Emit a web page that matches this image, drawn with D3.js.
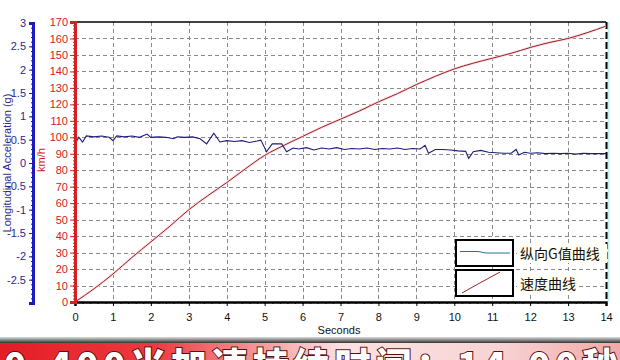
<!DOCTYPE html>
<html>
<head>
<meta charset="utf-8">
<script src="https://cdn.jsdelivr.net/npm/d3@7"></script>
<style>
  html, body { margin: 0; padding: 0; background: #fff; }
  svg { display: block; font-family: "Liberation Sans", Arial, sans-serif; }
</style>
</head>
<body>
<div id="chart"></div>
<script>
// speed curve (km/h)
const speedTime = [0, 0.5, 1, 1.5, 2, 2.5, 3, 3.5, 4, 4.5, 5, 5.5, 6, 6.5, 7, 7.5, 8, 8.5, 9, 9.5, 10, 10.5, 11, 11.5, 12, 12.5, 13, 13.5, 14]
const speedVals = [0, 8, 17, 27, 36.5, 46, 56, 64.5, 72.5, 81, 89, 95, 100.5, 106, 111, 116, 121.5, 126.5, 132, 137, 141.5, 145, 148, 151, 154.5, 157.5, 160, 163.5, 167.5]

// longitudinal acceleration (g)
const accTime = [0, 0.1, 0.2, 0.3, 0.5, 0.7, 0.9, 1.0, 1.1, 1.3, 1.5, 1.7, 1.9, 2.0, 2.2, 2.4, 2.6, 2.7, 2.9, 3.1, 3.3, 3.47, 3.66, 3.82,
  4.0, 4.2, 4.4, 4.6, 4.8, 4.9, 5.05, 5.2, 5.45, 5.58, 5.75, 5.9, 6.1, 6.3, 6.5, 6.7, 6.9, 7.1, 7.3, 7.5, 7.7, 7.9,
  8.1, 8.3, 8.5, 8.7, 8.9, 9.1, 9.23, 9.32, 9.5, 9.7, 9.9, 10.1, 10.3, 10.38, 10.5, 10.7, 10.9, 11.1, 11.3, 11.5, 11.63, 11.7, 11.85,
  12.0, 12.2, 12.4, 12.6, 12.8, 13.0, 13.2, 13.4, 13.6, 13.8, 14.0]
const accVals = [0.40, 0.55, 0.45, 0.58, 0.56, 0.58, 0.55, 0.48, 0.58, 0.56, 0.58, 0.55, 0.62, 0.55, 0.56, 0.55, 0.52, 0.56, 0.55, 0.56, 0.52, 0.41, 0.64, 0.45,
  0.48, 0.46, 0.48, 0.44, 0.47, 0.49, 0.24, 0.41, 0.41, 0.24, 0.32, 0.30, 0.33, 0.28, 0.32, 0.30, 0.33, 0.29, 0.31, 0.30, 0.32, 0.29,
  0.31, 0.30, 0.32, 0.29, 0.31, 0.30, 0.38, 0.21, 0.29, 0.29, 0.28, 0.26, 0.25, 0.10, 0.24, 0.27, 0.23, 0.22, 0.21, 0.21, 0.29, 0.17, 0.23,
  0.21, 0.22, 0.20, 0.21, 0.20, 0.21, 0.19, 0.21, 0.20, 0.20, 0.20]

const xTicks = d3.range(0, 15)
const speedTicks = d3.range(0, 171, 10)
const accTicks = [3, 2.5, 2, 1.5, 1, 0.5, 0, -0.5, -1, -1.5, -2, -2.5]
const legendLabels = ['纵向G值曲线', '速度曲线']
const bannerText = '0-400米加速持续时间：14.00秒'

const W = 620, H = 360
const svg = d3.select('#chart').append('svg').attr('width', W).attr('height', H)

const x = d3.scaleLinear().domain([0, 14]).range([75, 606])
const ySpeed = d3.scaleLinear().domain([0, 170]).range([302, 22])
const yAcc = d3.scaleLinear().domain([-3, 3]).range([303, 23])

// grid
const grid = svg.append('g').attr('stroke', '#8a8a8a').attr('stroke-dasharray', '4,3').attr('stroke-width', 1)
xTicks.filter(t => t > 0 && t < 14).forEach(t => {
  grid.append('line').attr('x1', Math.round(x(t)) + 0.5).attr('x2', Math.round(x(t)) + 0.5).attr('y1', 22).attr('y2', 302)
})
speedTicks.filter(t => t > 0 && t < 170).forEach(t => {
  grid.append('line').attr('x1', 75).attr('x2', 606).attr('y1', Math.round(ySpeed(t)) + 0.5).attr('y2', Math.round(ySpeed(t)) + 0.5)
})

// frame: top solid, right dashed + cyan
svg.append('line').attr('x1', 75).attr('x2', 606).attr('y1', 22).attr('y2', 22).attr('stroke', '#000').attr('stroke-width', 1.5)
svg.append('line').attr('x1', 608.5).attr('x2', 608.5).attr('y1', 22).attr('y2', 302).attr('stroke', '#bdf3f3').attr('stroke-width', 2)
svg.append('line').attr('x1', 606.5).attr('x2', 606.5).attr('y1', 22).attr('y2', 302)
  .attr('stroke', '#000').attr('stroke-width', 2).attr('stroke-dasharray', '7,3')

// lines
const speedLine = d3.line().x((d, i) => x(speedTime[i])).y(d => ySpeed(d)).curve(d3.curveMonotoneX)
svg.append('path').datum(speedVals).attr('d', speedLine)
  .attr('fill', 'none').attr('stroke', '#fbdcdc').attr('stroke-width', 2.5)
svg.append('path').datum(speedVals).attr('d', speedLine)
  .attr('fill', 'none').attr('stroke', '#9c1c28').attr('stroke-width', 1)

const accLine = d3.line().x((d, i) => x(accTime[i])).y(d => yAcc(d))
svg.append('path').datum(accVals).attr('d', accLine)
  .attr('fill', 'none').attr('stroke', '#1c1c7c').attr('stroke-width', 1.1)

// x axis
const xAxis = svg.append('g').attr('transform', 'translate(0,302)')
  .call(d3.axisBottom(x).tickValues(xTicks).tickSize(4).tickPadding(7).tickFormat(d3.format('d')))
xAxis.call(g => g.select('.domain').attr('stroke', '#000').attr('stroke-width', 2.5))
xAxis.selectAll('text').attr('font-size', 11).attr('fill', '#111')
svg.append('g').attr('transform', 'translate(0,302)')
  .call(d3.axisBottom(x).tickValues(d3.range(0, 14.01, 0.2)).tickSize(2).tickFormat(''))
  .call(g => g.select('.domain').remove())
svg.append('text').attr('x', 339).attr('y', 334).attr('text-anchor', 'middle')
  .attr('font-size', 11).attr('fill', '#111').text('Seconds')

// speed axis (red)
const yAxisR = svg.append('g').attr('transform', 'translate(75,0)')
  .call(d3.axisLeft(ySpeed).tickValues(speedTicks).tickSize(5).tickPadding(2).tickFormat(d3.format('d')))
yAxisR.select('.domain').attr('stroke', '#d42020').attr('stroke-width', 3)
yAxisR.selectAll('line').attr('stroke', '#d42020')
yAxisR.selectAll('text').attr('font-size', 11).attr('fill', '#d42020')
svg.append('g').attr('transform', 'translate(75,0)')
  .call(d3.axisLeft(ySpeed).tickValues(d3.range(0, 171, 2)).tickSize(2).tickFormat(''))
  .call(g => g.select('.domain').remove())
  .selectAll('line').attr('stroke', '#d42020')
svg.append('text').attr('transform', 'translate(45,160) rotate(-90)').attr('text-anchor', 'middle')
  .attr('font-size', 11).attr('fill', '#c81e1e').text('km/h')

// acceleration axis (blue)
const yAxisL = svg.append('g').attr('transform', 'translate(33,0)')
  .call(d3.axisLeft(yAcc).tickValues(accTicks).tickSize(4).tickPadding(3).tickFormat(d => d))
yAxisL.select('.domain').attr('stroke', '#1a1ac0').attr('stroke-width', 3)
yAxisL.selectAll('line').attr('stroke', '#1a1ac0')
yAxisL.selectAll('text').attr('font-size', 11).attr('fill', '#2a2a90')
svg.append('g').attr('transform', 'translate(33,0)')
  .call(d3.axisLeft(yAcc).tickValues(d3.range(-3, 3.01, 0.1)).tickSize(2).tickFormat(''))
  .call(g => g.select('.domain').remove())
  .selectAll('line').attr('stroke', '#1a1ac0')
svg.append('text').attr('transform', 'translate(11,163) rotate(-90)').attr('text-anchor', 'middle')
  .attr('font-size', 11).attr('fill', '#2a2a90').text('Longitudinal Acceleration (g)')

// legend
const legend = svg.append('g')
const boxes = [{ y: 240 }, { y: 270 }]
boxes.forEach((b, i) => {
  legend.append('rect').attr('x', 456).attr('y', b.y).attr('width', 57).attr('height', 26)
    .attr('fill', '#fff').attr('stroke', '#000').attr('stroke-width', 2)
  legend.append('rect').attr('x', 517).attr('y', b.y + 4).attr('width', i === 0 ? 90 : 60).attr('height', 19)
    .attr('fill', '#fffff4')
  legend.append('text').attr('x', 520).attr('y', b.y + 19).attr('font-size', 14)
    .attr('font-family', '"Noto Sans CJK SC", sans-serif').attr('fill', '#111').text(legendLabels[i])
})
legend.append('path').attr('d', 'M460,251.5 L478,251.5 L486,253 L510,253')
  .attr('fill', 'none').attr('stroke', '#2a6e9c').attr('stroke-width', 1)
legend.append('path').attr('d', 'M462,293 L478,284 L500,272')
  .attr('fill', 'none').attr('stroke', '#a8202c').attr('stroke-width', 1)

// bottom banner (text is cropped by the picture edge, as in the original)
const defs = svg.append('defs')
const grad = defs.append('linearGradient').attr('id', 'banner').attr('x1', 0).attr('x2', 1).attr('y1', 0).attr('y2', 0)
grad.append('stop').attr('offset', '0%').attr('stop-color', '#e41c24')
grad.append('stop').attr('offset', '25%').attr('stop-color', '#ec3a40')
grad.append('stop').attr('offset', '55%').attr('stop-color', '#fbe2e2')
grad.append('stop').attr('offset', '80%').attr('stop-color', '#f8d4d4')
grad.append('stop').attr('offset', '100%').attr('stop-color', '#f2a8a8')
const shade = defs.append('linearGradient').attr('id', 'shade').attr('x1', 0).attr('x2', 0).attr('y1', 0).attr('y2', 1)
shade.append('stop').attr('offset', '0%').attr('stop-color', '#ddd')
shade.append('stop').attr('offset', '100%').attr('stop-color', '#333')
svg.append('rect').attr('x', 0).attr('y', 337).attr('width', W).attr('height', 6).attr('fill', 'url(#shade)')
svg.append('rect').attr('x', 0).attr('y', 343).attr('width', W).attr('height', 17).attr('fill', 'url(#banner)')
svg.append('text').attr('x', 4).attr('y', 379).attr('font-size', 36).attr('font-weight', 900)
  .attr('font-family', '"Noto Sans CJK SC", sans-serif').attr('textLength', 614)
  .attr('fill', '#fff').attr('stroke', '#5a1010').attr('stroke-width', 2).attr('paint-order', 'stroke')
  .text(bannerText)
</script>
</body>
</html>
